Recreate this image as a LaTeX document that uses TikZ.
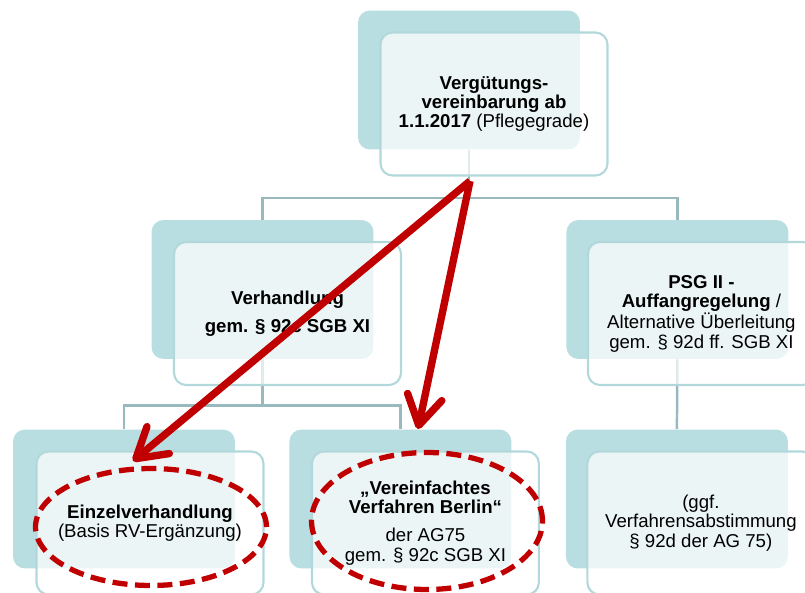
\documentclass[tikz,border=0pt]{standalone}
\usepackage{fontspec}
\setmainfont{Liberation Sans}
\usetikzlibrary{arrows.meta,shapes.geometric}
\definecolor{boxteal}{HTML}{B8DEE1}
\definecolor{frontline}{HTML}{B2D8DC}
\definecolor{linkgray}{HTML}{98B9BD}
\definecolor{darkred}{HTML}{C00000}
\tikzset{
	backbox/.style={rectangle, rounded corners=0.24cm, fill=boxteal, minimum width=4.44cm, minimum height=2.78cm},
	frontbox/.style={rectangle, rounded corners=0.24cm, draw=frontline, line width=1.2pt, fill=white, fill opacity=0.72, text opacity=1, minimum width=4.54cm, minimum height=2.86cm, align=center, font=\fontsize{10.6pt}{11pt}\selectfont},
	link/.style={draw=linkgray, line width=1.4pt},
	ring/.style={ellipse, draw=darkred, line width=3pt, dash pattern=on 0.3cm off 0.15cm, inner sep=0pt},
	bigarrow/.style={draw=darkred, line width=4.2pt, -{Straight Barb[length=5.8mm, width=7mm, round]}}
}
\begin{document}
\begin{tikzpicture}[x=0.02cm, y=-0.02cm, node distance=5.53cm]
	\useasboundingbox (0,0) rectangle (805,592);
	\clip (0,0) rectangle (805,592);
	\node (topback) [backbox] at (469,80) {};
	\node (midleftback) [backbox] at (262.5,289.5) {};
	\node (midrightback) [backbox, right of=midleftback, node distance=8.3cm] {};
	\node (botleftback) [backbox] at (124,499) {};
	\node (botmidback) [backbox, right of=botleftback] {};
	\node (botrightback) [backbox, right of=botmidback] {};
	
	\draw[link] (topback.south) -- ++(0,48) -| (midleftback.north);
	\draw[link] (topback.south) -- ++(0,48) -| (midrightback.north);
	\draw[link] (midleftback.south) -- ++(0,46) -| (botleftback.north);
	\draw[link] (midleftback.south) -- ++(0,46) -| (botmidback.north);
	\draw[link] (midrightback.south) -- (botrightback.north);
	
	\node (top) [frontbox] at ([shift={(25,24)}]topback.center) {\textbf{Vergütungs-}\\\textbf{vereinbarung ab}\\\textbf{1.1.2017} (Pflegegrade)};
	\node (midleft) [frontbox] at ([shift={(25,24)}]midleftback.center) {\textbf{Verhandlung}\\[5pt]\textbf{gem. § 92c SGB XI}};
	\node (midright) [frontbox] at ([shift={(24,24)}]midrightback.center) {\textbf{PSG II -}\\\textbf{Auffangregelung} /\\Alternative Überleitung\\gem. § 92d ff. SGB XI};
	\node (botleft) [frontbox] at ([shift={(26,24)}]botleftback.center) {\textbf{Einzelverhandlung}\\(Basis RV-Ergänzung)};
	\node (botmid) [frontbox] at ([shift={(25,24)}]botmidback.center) {\textbf{„Vereinfachtes}\\\textbf{Verfahren Berlin“}\\[5pt]der AG75\\gem. § 92c SGB XI};
	\node (botright) [frontbox] at ([shift={(24,24)}]botrightback.center) {(ggf.\\Verfahrensabstimmung\\§ 92d der AG 75)};
	
	\node (einzelring) [ring, minimum width=4.62cm, minimum height=2.34cm] at (151,527) {};
	\node (berlinring) [ring, minimum width=4.62cm, minimum height=2.74cm] at (427,521) {};
	
	\coordinate (fork) at (470,181);
	\coordinate (einzeltip) at (133,461);
	\coordinate (berlintip) at (418,429);
	\draw[bigarrow] (fork) -- (einzeltip);
	\draw[bigarrow] (fork) -- (berlintip);
\end{tikzpicture}
\end{document}
